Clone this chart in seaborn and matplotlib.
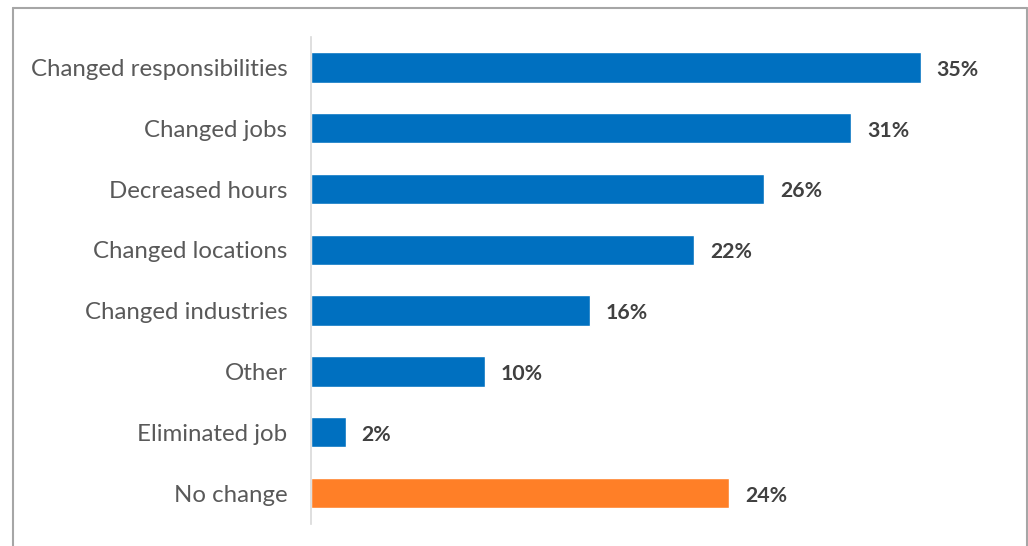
import matplotlib
matplotlib.use("Agg")
import matplotlib.pyplot as plt
from matplotlib.lines import Line2D
import seaborn as sns
import pandas as pd

categories = [
    "Changed responsibilities",
    "Changed jobs",
    "Decreased hours",
    "Changed locations",
    "Changed industries",
    "Other",
    "Eliminated job",
    "No change",
]
values = [35, 31, 26, 22, 16, 10, 2, 24]
bar_colors = ["#0070C0"] * 7 + ["#FF7F27"]

df = pd.DataFrame({"category": categories, "value": values})

sns.set_theme(style="white")
plt.rcParams["font.family"] = ["Lato", "DejaVu Sans"]

fig = plt.figure(figsize=(10.28, 5.46), dpi=100)
ax = fig.add_axes([311 / 1028, 1 - 523.5 / 546, 700 / 1028, 486.5 / 546])

sns.barplot(data=df, x="value", y="category", hue="category",
            palette=bar_colors, legend=False, width=0.5, ax=ax,
            saturation=1)

ax.set_xlim(0, 700 / 17.43)
ax.set_ylim(7.5, -0.5)
ax.set_xlabel("")
ax.set_ylabel("")
ax.set_xticks([])
for s in ["top", "right", "bottom"]:
    ax.spines[s].set_visible(False)
ax.spines["left"].set_color("#D9D9D9")
ax.spines["left"].set_linewidth(1.2)
ax.tick_params(axis="y", length=0, pad=17, labelsize=17.3, labelcolor="#595959")

for i, v in enumerate(values):
    ax.text(v + 0.9, i + 0.04, f"{v}%", va="center", ha="left",
            fontsize=15.3, fontweight="bold", color="#404040")

# outer frame, open at the bottom
frame_kw = dict(color="#A6A6A6", linewidth=1.5, transform=fig.transFigure)
x0, x1, ytop = 13 / 1028, 1026.5 / 1028, 1 - 8 / 546
fig.add_artist(Line2D([x0, x0], [0, ytop], **frame_kw))
fig.add_artist(Line2D([x1, x1], [0, ytop], **frame_kw))
fig.add_artist(Line2D([x0, x1], [ytop, ytop], **frame_kw))

fig.savefig("out.png", dpi=100)
